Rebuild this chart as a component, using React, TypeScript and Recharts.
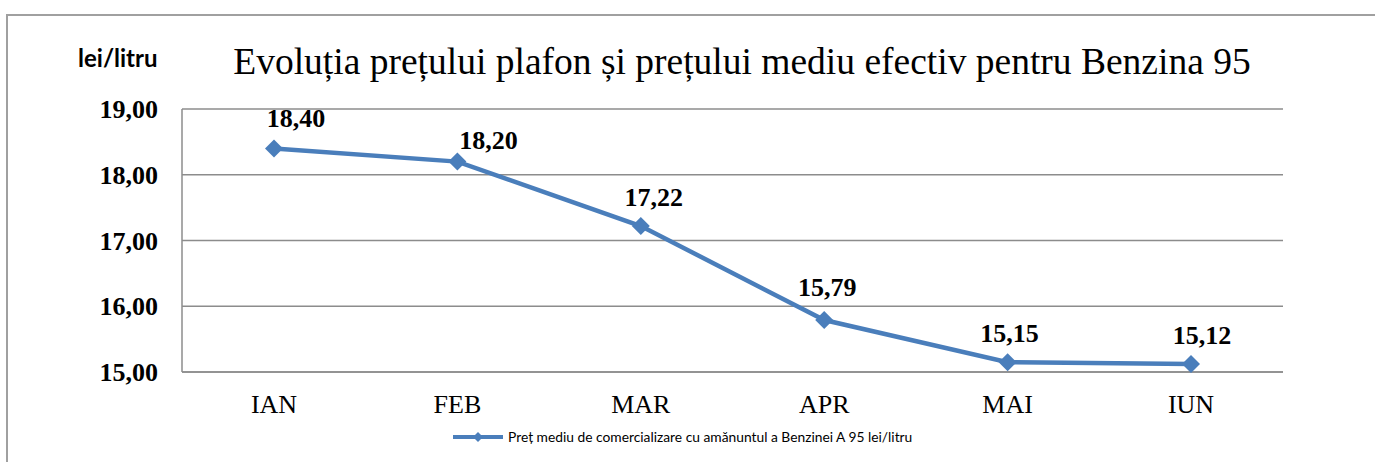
import React from 'react';
import {
  LineChart,
  Line,
  XAxis,
  YAxis,
  CartesianGrid,
  LabelList,
} from 'recharts';

const months = ['IAN', 'FEB', 'MAR', 'APR', 'MAI', 'IUN'];
const prices = [18.4, 18.2, 17.22, 15.79, 15.15, 15.12];
const yTicks = [15, 16, 17, 18, 19];

const seriesName = 'Preț mediu de comercializare cu amănuntul a Benzinei A 95 lei/litru';
const title = 'Evoluția prețului plafon și prețului mediu efectiv pentru Benzina 95';
const unitLabel = 'lei/litru';

// hand-placed data label nudges (as in the original Excel chart)
const labelDx = [22, 31, 13, 3, 2, 11];
const labelDy = [21, 13, 20, 24, 20, 20];

const data = months.map((m, i) => ({ name: m, price: prices[i] }));

const BLUE = '#4a7ebb';
const GRID = '#8c8c8c';
const SERIF = '"Liberation Serif", "Times New Roman", serif';
const fmt = (v: number) => v.toFixed(2).replace('.', ',');

const Diamond = (props: any) => {
  const { cx, cy } = props;
  if (cx == null || cy == null) return null;
  const r = 9;
  return (
    <polygon
      points={`${cx},${cy - r} ${cx + r},${cy} ${cx},${cy + r} ${cx - r},${cy}`}
      fill={BLUE}
    />
  );
};

const PointLabel = (props: any) => {
  const { x, y, value, index } = props;
  if (x == null || y == null) return null;
  return (
    <text
      x={x + (labelDx[index] ?? 0)}
      y={y - (labelDy[index] ?? 20)}
      textAnchor="middle"
      fill="#000"
      fontSize={26}
      fontWeight={700}
      fontFamily={SERIF}
    >
      {fmt(Number(value))}
    </text>
  );
};

export default function App() {
  return (
    <div style={{ position: 'absolute', left: 0, top: 0, width: 1375, height: 462, overflow: 'hidden', background: '#fff' }}>
      <div
        style={{
          position: 'absolute',
          left: 6,
          top: 14,
          width: 1400,
          height: 500,
          border: '2px solid #a0a0a0',
          boxSizing: 'border-box',
        }}
      />
      <div
        style={{
          position: 'absolute',
          left: 0,
          width: 1484,
          top: 40,
          textAlign: 'center',
          fontFamily: SERIF,
          fontSize: 37.5,
          lineHeight: '44px',
          color: '#000',
        }}
      >
        {title}
      </div>
      <div
        style={{
          position: 'absolute',
          left: 78,
          top: 44,
          fontFamily: 'Lato, sans-serif',
          fontWeight: 700,
          fontSize: 24,
          lineHeight: '28px',
          color: '#000',
        }}
      >
        {unitLabel}
      </div>
      <div style={{ position: 'absolute', left: 0, top: 0 }}>
        <LineChart
          width={1375}
          height={462}
          data={data}
          margin={{ top: 109, right: 92, bottom: 0, left: 0 }}
        >
          <CartesianGrid horizontal vertical={false} stroke={GRID} strokeWidth={1.5} />
          <XAxis
            dataKey="name"
            padding={{ left: 92, right: 92 }}
            axisLine={{ stroke: GRID, strokeWidth: 1.5 }}
            tickLine={false}
            tickSize={0}
            tickMargin={23}
            height={90}
            tick={{ fill: '#000', fontSize: 26, fontFamily: SERIF }}
          />
          <YAxis
            domain={[15, 19]}
            ticks={yTicks}
            width={182}
            axisLine={{ stroke: GRID, strokeWidth: 1.5 }}
            tickLine={false}
            tickSize={0}
            tickMargin={24}
            tickFormatter={fmt}
            tick={{ fill: '#000', fontSize: 26, fontWeight: 700, fontFamily: SERIF }}
          />
          <Line
            type="linear"
            dataKey="price"
            name={seriesName}
            stroke={BLUE}
            strokeWidth={4.5}
            dot={<Diamond />}
            activeDot={false}
            isAnimationActive={false}
          >
            <LabelList dataKey="price" content={<PointLabel />} />
          </Line>
        </LineChart>
      </div>
      <div
        style={{
          position: 'absolute',
          left: 452,
          top: 428,
          display: 'flex',
          alignItems: 'center',
          whiteSpace: 'nowrap',
        }}
      >
        <svg width={52} height={12} style={{ marginRight: 4 }}>
          <line x1={1} y1={6} x2={51} y2={6} stroke={BLUE} strokeWidth={4} />
          <polygon points="26,1 31,6 26,11 21,6" fill={BLUE} />
        </svg>
        <span style={{ fontFamily: 'Lato, sans-serif', fontSize: 13.8, color: '#000', lineHeight: '18px' }}>
          {seriesName}
        </span>
      </div>
    </div>
  );
}
